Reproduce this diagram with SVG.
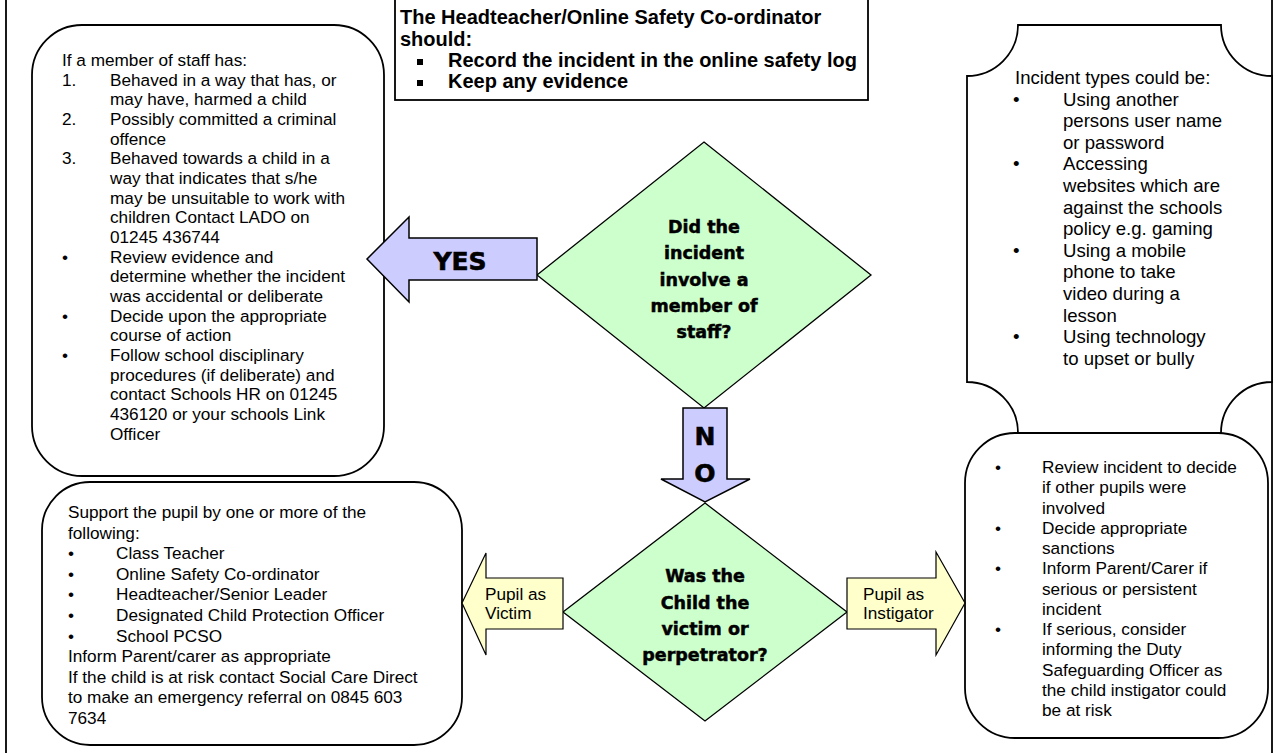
<svg xmlns="http://www.w3.org/2000/svg" width="1278" height="753" viewBox="0 0 1278 753">
<style>
.box{fill:#fff;stroke:#000;stroke-width:1.8}
.frame{stroke:#000;stroke-width:1.8;fill:none}
.t{font-family:'Liberation Sans',Arial,sans-serif;font-size:17.2px;fill:#000}
.ti{font-family:'Liberation Sans',Arial,sans-serif;font-size:18.6px;fill:#000}
.hb{font-family:'Liberation Sans',Arial,sans-serif;font-size:20px;font-weight:bold;fill:#000}
.dec{fill:#ccffcc;stroke:#000;stroke-width:1.3}
.dt{font-family:'DejaVu Sans',sans-serif;font-weight:bold;font-size:17.5px;text-anchor:middle;fill:#000;stroke:#000;stroke-width:0.5}
.at{font-family:'DejaVu Sans',sans-serif;font-weight:bold;font-size:25px;text-anchor:middle;fill:#000;stroke:#000;stroke-width:0.6}
.blue{fill:#ccccff;stroke:#000;stroke-width:1.5}
.yel{fill:#ffffcc;stroke:#000;stroke-width:1.2}
</style>
<rect x="0" y="0" width="1278" height="753" fill="#fff"/>
<g id="frame">
<line class="frame" x1="6" y1="0" x2="6" y2="753"/>
<line class="frame" x1="1272" y1="0" x2="1272" y2="753"/>
</g>

<g id="headteacher">
<rect class="box" x="395" y="-2" width="473" height="102"/>
<text class="hb" x="400" y="24">The Headteacher/Online Safety Co-ordinator</text>
<text class="hb" x="400" y="46">should:</text>
<rect x="417" y="59" width="6" height="6" fill="#000"/>
<text class="hb" x="448" y="67">Record the incident in the online safety log</text>
<rect x="417" y="80" width="6" height="6" fill="#000"/>
<text class="hb" x="448" y="88">Keep any evidence</text>
</g>

<g id="staff-actions">
<rect class="box" x="32" y="25" width="352" height="451" rx="50" ry="50"/>
<text class="t" x="62" y="66">If a member of staff has:</text>
<text class="t" x="62" y="86">1.</text><text class="t" x="110" y="86">Behaved in a way that has, or</text>
<text class="t" x="110" y="105">may have, harmed a child</text>
<text class="t" x="62" y="125">2.</text><text class="t" x="110" y="125">Possibly committed a criminal</text>
<text class="t" x="110" y="145">offence</text>
<text class="t" x="62" y="164">3.</text><text class="t" x="110" y="164">Behaved towards a child in a</text>
<text class="t" x="110" y="184">way that indicates that s/he</text>
<text class="t" x="110" y="204">may be unsuitable to work with</text>
<text class="t" x="110" y="223">children Contact LADO on</text>
<text class="t" x="110" y="243">01245 436744</text>
<text class="t" x="62" y="263">•</text><text class="t" x="110" y="263">Review evidence and</text>
<text class="t" x="110" y="282">determine whether the incident</text>
<text class="t" x="110" y="302">was accidental or deliberate</text>
<text class="t" x="62" y="322">•</text><text class="t" x="110" y="322">Decide upon the appropriate</text>
<text class="t" x="110" y="341">course of action</text>
<text class="t" x="62" y="361">•</text><text class="t" x="110" y="361">Follow school disciplinary</text>
<text class="t" x="110" y="381">procedures (if deliberate) and</text>
<text class="t" x="110" y="400">contact Schools HR on 01245</text>
<text class="t" x="110" y="420">436120 or your schools Link</text>
<text class="t" x="110" y="440">Officer</text>
</g>

<g id="incident-types">
<path class="box" d="M1018,25 H1221 A51,51 0 0 0 1272,76 V382 A51,51 0 0 0 1221,433 H1018 A51,51 0 0 0 967,382 V76 A51,51 0 0 0 1018,25 Z"/>
<text class="ti" x="1015" y="84">Incident types could be:</text>
<text class="ti" x="1013" y="106">•</text><text class="ti" x="1063" y="106">Using another</text>
<text class="ti" x="1063" y="127">persons user name</text>
<text class="ti" x="1063" y="149">or password</text>
<text class="ti" x="1013" y="170">•</text><text class="ti" x="1063" y="170">Accessing</text>
<text class="ti" x="1063" y="192">websites which are</text>
<text class="ti" x="1063" y="214">against the schools</text>
<text class="ti" x="1063" y="235">policy e.g. gaming</text>
<text class="ti" x="1013" y="257">•</text><text class="ti" x="1063" y="257">Using a mobile</text>
<text class="ti" x="1063" y="278">phone to take</text>
<text class="ti" x="1063" y="300">video during a</text>
<text class="ti" x="1063" y="322">lesson</text>
<text class="ti" x="1013" y="343">•</text><text class="ti" x="1063" y="343">Using technology</text>
<text class="ti" x="1063" y="365">to upset or bully</text>
</g>

<g id="decision-staff">
<polygon class="dec" points="704,142 871,275 704,408 537,275"/>
<text class="dt" x="704" y="233">Did the</text>
<text class="dt" x="704" y="259">incident</text>
<text class="dt" x="704" y="286">involve a</text>
<text class="dt" x="704" y="312">member of</text>
<text class="dt" x="704" y="338">staff?</text>
</g>

<g id="decision-child">
<polygon class="dec" points="705,503 847,612 705,721 563,612"/>
<text class="dt" x="705" y="582">Was the</text>
<text class="dt" x="705" y="609">Child the</text>
<text class="dt" x="705" y="635">victim or</text>
<text class="dt" x="705" y="661">perpetrator?</text>
</g>

<g id="victim-support">
<rect class="box" x="42" y="482" width="420" height="263" rx="48" ry="48"/>
<text class="t" x="68" y="518">Support the pupil by one or more of the</text>
<text class="t" x="68" y="539">following:</text>
<text class="t" x="68" y="559">•</text><text class="t" x="116" y="559">Class Teacher</text>
<text class="t" x="68" y="580">•</text><text class="t" x="116" y="580">Online Safety Co-ordinator</text>
<text class="t" x="68" y="600">•</text><text class="t" x="116" y="600">Headteacher/Senior Leader</text>
<text class="t" x="68" y="621">•</text><text class="t" x="116" y="621">Designated Child Protection Officer</text>
<text class="t" x="68" y="642">•</text><text class="t" x="116" y="642">School PCSO</text>
<text class="t" x="68" y="662">Inform Parent/carer as appropriate</text>
<text class="t" x="68" y="683">If the child is at risk contact Social Care Direct</text>
<text class="t" x="68" y="703">to make an emergency referral on 0845 603</text>
<text class="t" x="68" y="724">7634</text>
</g>

<g id="instigator-actions">
<rect class="box" x="965" y="433" width="303" height="305" rx="50" ry="50"/>
<text class="t" x="995" y="473">•</text><text class="t" x="1042" y="473">Review incident to decide</text>
<text class="t" x="1042" y="493">if other pupils were</text>
<text class="t" x="1042" y="514">involved</text>
<text class="t" x="995" y="534">•</text><text class="t" x="1042" y="534">Decide appropriate</text>
<text class="t" x="1042" y="554">sanctions</text>
<text class="t" x="995" y="574">•</text><text class="t" x="1042" y="574">Inform Parent/Carer if</text>
<text class="t" x="1042" y="595">serious or persistent</text>
<text class="t" x="1042" y="615">incident</text>
<text class="t" x="995" y="635">•</text><text class="t" x="1042" y="635">If serious, consider</text>
<text class="t" x="1042" y="655">informing the Duty</text>
<text class="t" x="1042" y="676">Safeguarding Officer as</text>
<text class="t" x="1042" y="696">the child instigator could</text>
<text class="t" x="1042" y="716">be at risk</text>
</g>

<g id="connectors">
<g id="arrow-yes">
<polygon class="blue" points="367,259 409,217 409,238 537,238 537,280 409,280 409,302"/>
<text class="at" x="460" y="270">YES</text>
</g>
<g id="arrow-no">
<polygon class="blue" points="683,408 727,408 727,479 750,479 705,502 661,479 683,479"/>
<text class="at" x="705" y="445">N</text>
<text class="at" x="705" y="482">O</text>
</g>
<g id="arrow-victim">
<polygon class="yel" points="462,603 486,553 486,578 563,578 563,629 486,629 486,655"/>
<text class="t" x="485" y="600">Pupil as</text>
<text class="t" x="485" y="619">Victim</text>
</g>
<g id="arrow-instigator">
<polygon class="yel" points="847,578 936,578 936,552 965,603 936,655 936,629 847,629"/>
<text class="t" x="863" y="600">Pupil as</text>
<text class="t" x="863" y="619">Instigator</text>
</g>
</g>
</svg>
